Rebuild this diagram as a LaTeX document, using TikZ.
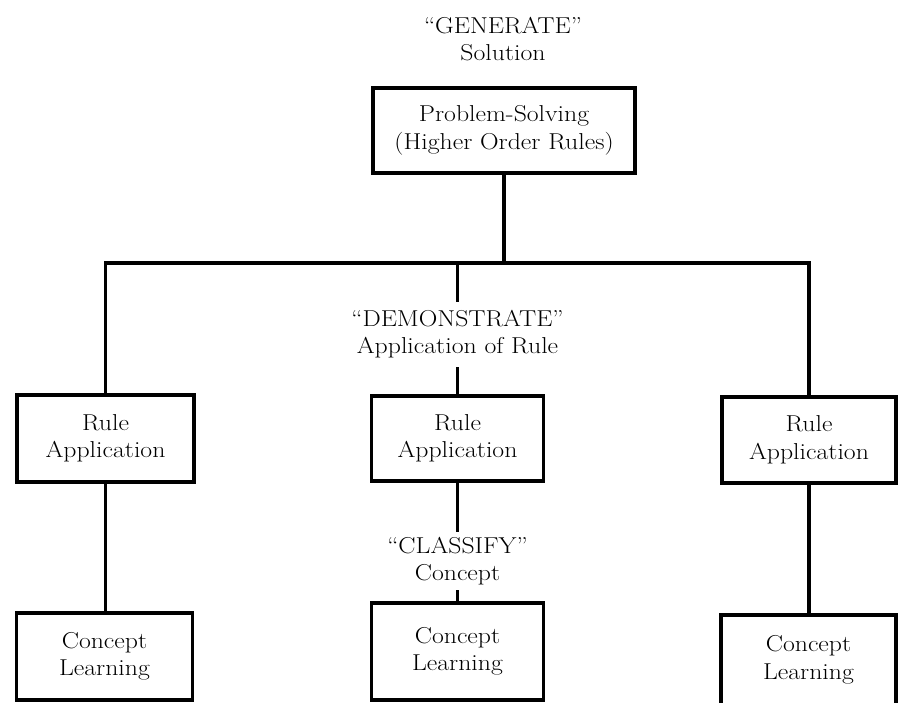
\documentclass[tikz,border=0pt]{standalone}
\usepackage{fontspec}
\setmainfont[FakeStretch=1.12]{Latin Modern Roman}
\newcommand\boxfont{\fontsize{23}{27.5}\selectfont}
\newcommand\lblfont{\fontsize{23}{27}\selectfont}
\tikzset{
  box/.style={draw, line width=3.2pt, align=center, inner sep=0pt, font=\boxfont},
  lbl/.style={align=center, inner sep=0pt, font=\lblfont},
  link/.style={line width=3.2pt}
}
\begin{document}
\begin{tikzpicture}[x=1pt, y=-1pt]
  \useasboundingbox (0,0) rectangle (899,702);
  \clip (0,0) rectangle (899,702);

  % top level
  \node[lbl, font=\boxfont] (gen) at (503,39) {``GENERATE''\\Solution};
  \node[box, minimum width=262pt, minimum height=85pt] (top) at (504,130.5)
       {Problem-Solving\\(Higher Order Rules)};

  % left branch
  \node[box, minimum width=177pt, minimum height=87pt] (ra1) at (105.5,438.5) {Rule\\Application};
  \node[box, minimum width=176pt, minimum height=87pt] (cl1) at (104.5,656.5) {Concept\\Learning};

  % middle branch with labels
  \node[lbl, minimum height=65pt] (dem) at (457.5,334.5) {``DEMONSTRATE''\\Application of Rule};
  \node[box, minimum width=172pt, minimum height=85pt] (ra2) at (457.5,438.5) {Rule\\Application};
  \node[lbl, minimum height=58pt] (cls) at (457.5,561) {``CLASSIFY''\\Concept};
  \node[box, minimum width=172pt, minimum height=97pt] (cl2) at (457.5,651.5) {Concept\\Learning};

  % right branch
  \node[box, minimum width=174pt, minimum height=86pt] (ra3) at (809,440) {Rule\\Application};
  \node[box, minimum width=175pt, minimum height=90pt] (cl3) at (808.5,660) {Concept\\Learning};

  % connectors
  \coordinate (bus) at (457.5,263);
  \draw[link] (ra1.north) |- (bus) -| (ra3.north);
  \draw[link] (top.south) -- (top.south |- bus);
  \draw[link] (bus) -- (dem.north);
  \draw[link] (dem.south) -- (ra2.north);
  \draw[link] (ra2.south) -- (cls.north);
  \draw[link] (cls.south) -- (cl2.north);
  \draw[link] (ra1.south) -- (ra1.south |- cl1.north);
  \draw[link] (ra3.south) -- (ra3.south |- cl3.north);
\end{tikzpicture}
\end{document}
